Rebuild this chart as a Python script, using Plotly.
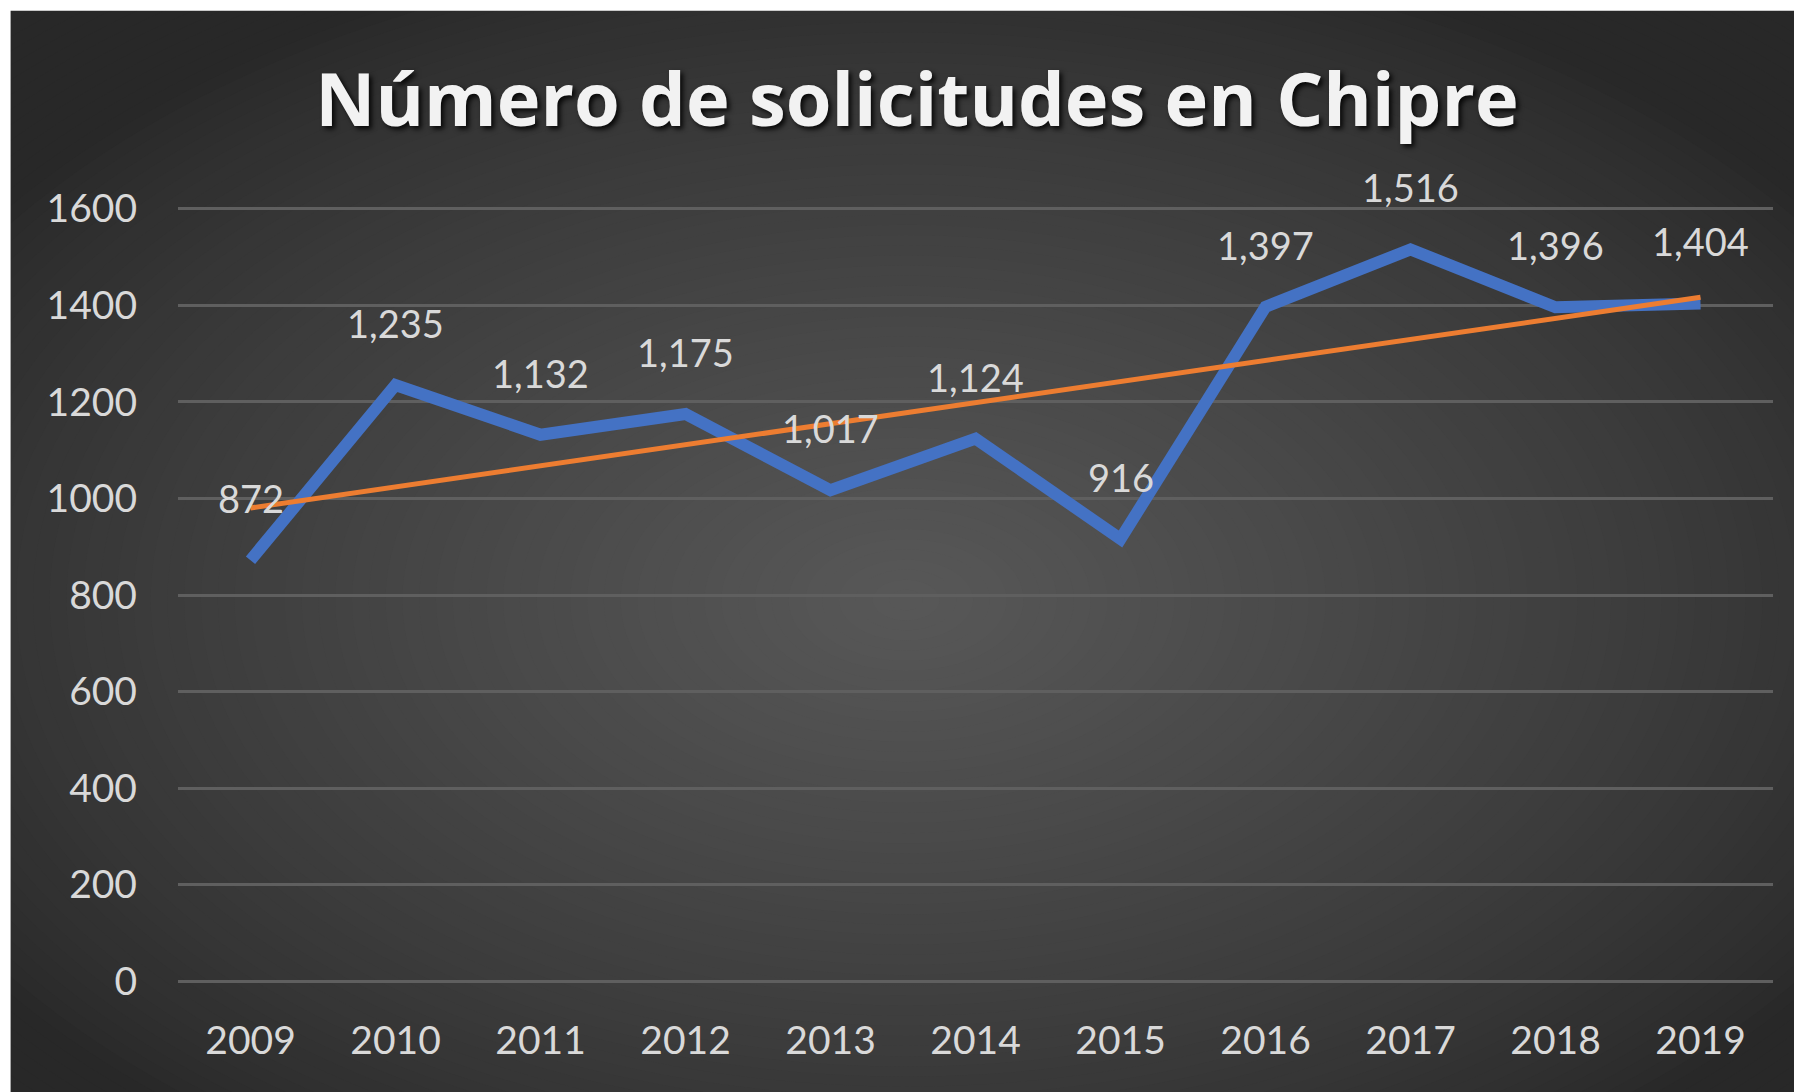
import plotly.graph_objects as go

years = ["2009", "2010", "2011", "2012", "2013", "2014", "2015", "2016", "2017", "2018", "2019"]
solicitudes = [872, 1235, 1132, 1175, 1017, 1124, 916, 1397, 1516, 1396, 1404]
labels = ["872", "1,235", "1,132", "1,175", "1,017", "1,124", "916", "1,397", "1,516", "1,396", "1,404"]
y_ticks = [0, 200, 400, 600, 800, 1000, 1200, 1400, 1600]
title_text = "Número de solicitudes en Chipre"

OFF = 8  # default page body margin of the written html
FW, FH = 1802 - OFF, 1092 - OFF
YPAD = 10  # small range padding so the edge gridlines are kept
PXU = (981 - 209) / 1600.0
L, R = 177.5 - OFF, 1773.5 - OFF
T, B = 209 - OFF - YPAD * PXU, 981 - OFF + YPAD * PXU
PW, PH = R - L, B - T

def px(x):
    return (x - L) / PW

def py(y):
    return (B - y) / PH

# linear trendline (least squares) computed from the data
n = len(solicitudes)
xs = list(range(n))
mx = sum(xs) / n
my = sum(solicitudes) / n
slope = sum((x - mx) * (y - my) for x, y in zip(xs, solicitudes)) / sum((x - mx) ** 2 for x in xs)
trend = [my + slope * (x - mx) for x in xs]

fig = go.Figure()
fig.add_trace(go.Scatter(x=years, y=solicitudes, mode="lines",
                         line=dict(color="#4472C4", width=12), hoverinfo="skip", showlegend=False))
fig.add_trace(go.Scatter(x=years, y=trend, mode="lines",
                         line=dict(color="#ED7D31", width=5), hoverinfo="skip", showlegend=False))

for i, (v, lab) in enumerate(zip(solicitudes, labels)):
    fig.add_annotation(x=i, y=v, xref="x", yref="y", text=lab, showarrow=False, yshift=62,
                       font=dict(family="Lato", size=38, color="#d9d9d9"))

# radial gradient background
shapes = []
x0, y0, x1, y1 = 10 - OFF, 11 - OFF, FW, FH
cx, cy = (x0 + x1) / 2, 600 - OFF
hw, hh = (x1 - x0) / 2, (y1 - y0) / 2
edge, center = 40, 88
N = 80
rmax = 1.5
for i in range(N):
    r = rmax * (1 - i / N)
    k = max(0.0, 1 - r / 1.25) ** 0.8
    g = int(round(edge + (center - edge) * k))
    col = "rgb(%d,%d,%d)" % (g, g, g)
    shapes.append(dict(type="circle", xref="paper", yref="paper",
                       x0=px(cx - r * hw), x1=px(cx + r * hw), y0=py(cy + r * hh), y1=py(cy - r * hh),
                       fillcolor=col, line=dict(width=0), layer="below"))
# white margins top and left
shapes.append(dict(type="rect", xref="paper", yref="paper", x0=px(-50), x1=px(FW + 50),
                   y0=py(y0), y1=py(-50), fillcolor="white", line=dict(width=0), layer="below"))
shapes.append(dict(type="rect", xref="paper", yref="paper", x0=px(-50), x1=px(x0),
                   y0=py(FH + 50), y1=py(-50), fillcolor="white", line=dict(width=0), layer="below"))

fig.update_layout(
    width=FW, height=FH,
    margin=dict(l=L, r=FW - R, t=T, b=FH - B, pad=0),
    paper_bgcolor="rgb(40,40,40)",
    plot_bgcolor="rgba(0,0,0,0)",
    shapes=shapes,
    title=dict(text="<b>" + title_text + "</b>", x=(917 - OFF) / FW, xref="container", xanchor="center",
               y=1 - (100 - OFF) / FH, yref="container", yanchor="middle",
               font=dict(family="Open Sans", size=74, color="#f2f2f2",
                         shadow="3px 3px 5px rgba(0,0,0,0.85)")),
    xaxis=dict(type="category", range=[-0.5, 10.5], showgrid=False, zeroline=False, showline=False,
               tickfont=dict(family="Lato", size=39, color="#d9d9d9"), ticks="",
               ticklabelstandoff=int(round(33 - YPAD * PXU))),
    yaxis=dict(range=[-YPAD, 1600 + YPAD], tickvals=y_ticks, ticktext=[str(v) for v in y_ticks],
               showgrid=True, gridcolor="#5f5f5f", gridwidth=2.5, zeroline=False, showline=False,
               tickfont=dict(family="Lato", size=39, color="#d9d9d9"), ticks="", ticklabelstandoff=40),
    showlegend=False,
)

fig.write_html("out.html")
